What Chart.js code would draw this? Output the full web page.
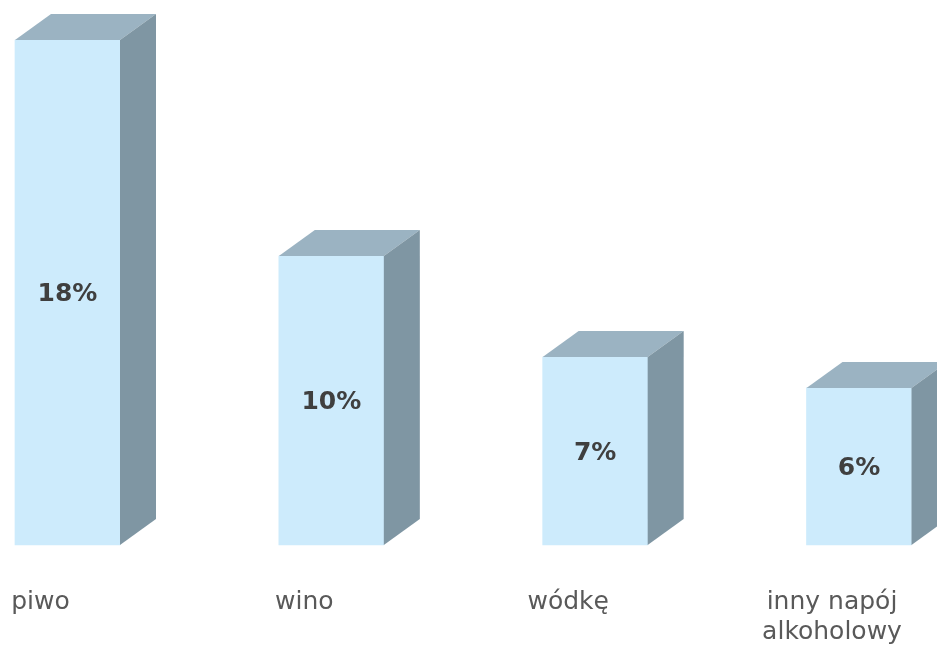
<!DOCTYPE html>
<html>
<head>
<meta charset="utf-8">
<script src="https://cdn.jsdelivr.net/npm/chart.js@4/dist/chart.umd.min.js"></script>
<style>
  html, body { margin: 0; padding: 0; background: #ffffff; overflow: hidden; }
  #wrap { width: 937px; height: 645px; position: relative; }
</style>
</head>
<body>
<div id="wrap"><canvas id="drinksChart"></canvas></div>
<script>
// Categories and shares (%)
const categories = ['piwo', 'wino', 'wódkę', ['inny napój', 'alkoholowy']];
const shares = [18, 10.3, 6.7, 5.6];

const frontColor = '#cdebfc';
const topColor = '#9bb3c2';
const sideColor = '#7f96a3';
const depthX = 36;
const depthY = 26;

// draws top + side faces and the value text on each bar
const bars3d = {
    id: 'bars3d',
    afterDatasetsDraw(chart) {
        const ctx = chart.ctx;
        const meta = chart.getDatasetMeta(0);
        ctx.save();
        meta.data.forEach((bar, i) => {
            const p = bar.getProps(['x', 'y', 'base', 'width'], true);
            const x1 = p.x - p.width / 2;
            const x2 = p.x + p.width / 2;

            ctx.fillStyle = topColor;
            ctx.beginPath();
            ctx.moveTo(x1, p.y);
            ctx.lineTo(x1 + depthX, p.y - depthY);
            ctx.lineTo(x2 + depthX, p.y - depthY);
            ctx.lineTo(x2, p.y);
            ctx.closePath();
            ctx.fill();

            ctx.fillStyle = sideColor;
            ctx.beginPath();
            ctx.moveTo(x2, p.y);
            ctx.lineTo(x2 + depthX, p.y - depthY);
            ctx.lineTo(x2 + depthX, p.base - depthY);
            ctx.lineTo(x2, p.base);
            ctx.closePath();
            ctx.fill();

            ctx.fillStyle = '#3f3f3f';
            ctx.font = 'bold 25px "DejaVu Sans"';
            ctx.textAlign = 'center';
            ctx.textBaseline = 'middle';
            ctx.fillText(Math.round(shares[i]) + '%', p.x, (p.y + p.base) / 2 + 2);
        });
        ctx.restore();
    }
};

new Chart(document.getElementById('drinksChart'), {
    type: 'bar',
    data: {
        labels: categories,
        datasets: [{
            data: shares,
            backgroundColor: frontColor,
            borderWidth: 0,
            barThickness: 105,
            clip: false
        }]
    },
    options: {
        responsive: true,
        maintainAspectRatio: false,
        animation: false,
        layout: { padding: { top: 40, left: 67.5, right: 78, bottom: 0 } },
        plugins: {
            legend: { display: false },
            tooltip: { enabled: false }
        },
        scales: {
            x: {
                offset: false,
                grid: { display: false, drawTicks: false },
                border: { display: false },
                ticks: {
                    color: '#595959',
                    font: { family: 'DejaVu Sans', size: 25, lineHeight: 1.2 },
                    padding: 42,
                    labelOffset: -27,
                    maxRotation: 0,
                    autoSkip: false
                },
                afterFit(axis) {
                    axis.height = 100;
                    axis.paddingLeft = 0;
                    axis.paddingRight = 0;
                }
            },
            y: {
                display: false,
                min: 0,
                max: 18
            }
        }
    },
    plugins: [bars3d]
});
</script>
</body>
</html>
